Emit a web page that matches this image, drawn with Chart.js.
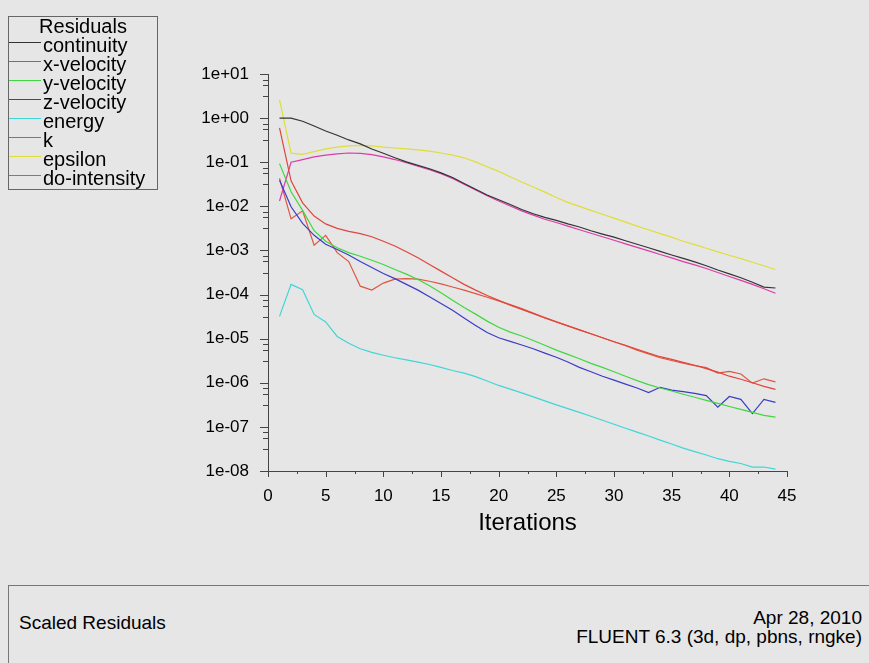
<!DOCTYPE html>
<html>
<head>
<meta charset="utf-8">
<script src="https://cdn.jsdelivr.net/npm/chart.js@4.4.1/dist/chart.umd.min.js"></script>
<style>
  body { margin: 0; background: #e6e6e6; font-family: "Liberation Sans", Arial, sans-serif; color: #000; }
  #wrap { position: relative; width: 869px; height: 663px; overflow: hidden; background: #e6e6e6; }
  #plot { position: absolute; left: 0; top: 0; }
  #legend { position: absolute; left: 8px; top: 16px; width: 150px; height: 174px;
            border: 1px solid #666; font-size: 20px; line-height: 19px; padding-top: 0px; box-sizing: border-box; }
  #legend .title { text-align: center; }
  #legend .row { position: relative; padding-left: 34px; white-space: nowrap; }
  #legend .swatch { position: absolute; left: 0; top: 6px; width: 32px; height: 1px; }
  #footer { position: absolute; left: 8px; top: 585px; right: -2px; bottom: -2px;
            border-top: 1px solid #777; border-left: 1px solid #777; }
  .ftxt { position: absolute; font-size: 19px; line-height: 19px; white-space: nowrap; }
</style>
</head>
<body>
<div id="wrap">
  <canvas id="plot" width="869" height="585"></canvas>
  <div id="legend"><div class="title">Residuals</div></div>
  <div id="footer"></div>
  <div class="ftxt" style="left:19px; top:613px;">Scaled Residuals</div>
  <div class="ftxt" style="right:7px; top:608px; text-align:right;">Apr 28, 2010<br>FLUENT 6.3 (3d, dp, pbns, rngke)</div>
</div>
<script>
// scaled residuals per iteration
const iterations = [1,2,3,4,5,6,7,8,9,10,11,12,13,14,15,16,17,18,19,20,21,22,23,24,25,26,27,28,29,30,31,32,33,34,35,36,37,38,39,40,41,42,43,44];

const continuity = [1.0,1.0,8.5e-1,6.6e-1,5.1e-1,4.1e-1,3.2e-1,2.6e-1,2.0e-1,1.6e-1,1.26e-1,1.02e-1,8.5e-2,7.1e-2,5.75e-2,4.5e-2,3.3e-2,2.45e-2,1.8e-2,1.41e-2,
  1.1e-2,8.5e-3,6.8e-3,5.6e-3,4.8e-3,4.0e-3,3.4e-3,2.8e-3,2.35e-3,2.0e-3,1.66e-3,1.38e-3,1.15e-3,9.5e-4,7.9e-4,6.6e-4,5.5e-4,4.5e-4,3.6e-4,2.95e-4,
  2.4e-4,1.9e-4,1.48e-4,1.41e-4];
const xVelocity = [6.0e-1,3.8e-2,1.2e-2,6.0e-3,4.0e-3,3.16e-3,2.7e-3,2.4e-3,2.04e-3,1.62e-3,1.26e-3,9.3e-4,6.8e-4,4.8e-4,3.4e-4,2.4e-4,1.7e-4,1.26e-4,9.5e-5,7.4e-5,
  5.75e-5,4.6e-5,3.7e-5,2.95e-5,2.4e-5,1.95e-5,1.58e-5,1.29e-5,1.05e-5,8.5e-6,7.1e-6,5.75e-6,4.7e-6,3.9e-6,3.4e-6,2.9e-6,2.5e-6,2.1e-6,1.74e-6,1.41e-6,
  1.2e-6,1.0e-6,8.3e-7,7.1e-7];
const yVelocity = [9.3e-2,2.14e-2,8.1e-3,2.8e-3,1.62e-3,1.15e-3,8.9e-4,7.4e-4,6.0e-4,4.8e-4,3.7e-4,2.9e-4,2.2e-4,1.58e-4,1.1e-4,7.4e-5,5.1e-5,3.6e-5,2.5e-5,1.82e-5,
  1.41e-5,1.15e-5,9.1e-6,7.1e-6,5.5e-6,4.4e-6,3.5e-6,2.75e-6,2.24e-6,1.78e-6,1.41e-6,1.12e-6,9.1e-7,7.6e-7,6.5e-7,5.5e-7,4.7e-7,4.0e-7,3.4e-7,2.9e-7,
  2.5e-7,2.14e-7,1.82e-7,1.66e-7];
const zVelocity = [3.9e-2,9.8e-3,4.1e-3,2.2e-3,1.38e-3,1.05e-3,7.9e-4,5.6e-4,4.1e-4,3.0e-4,2.3e-4,1.7e-4,1.26e-4,8.9e-5,6.3e-5,4.4e-5,2.95e-5,2.0e-5,1.38e-5,1.05e-5,
  8.7e-6,7.2e-6,5.9e-6,4.7e-6,3.8e-6,2.95e-6,2.24e-6,1.78e-6,1.41e-6,1.15e-6,9.3e-7,7.6e-7,6.0e-7,7.9e-7,6.8e-7,6.3e-7,5.75e-7,5.1e-7,2.8e-7,4.9e-7,
  4.2e-7,2.0e-7,4.2e-7,3.6e-7];
const energy = [3.2e-5,1.7e-4,1.29e-4,3.55e-5,2.4e-5,1.12e-5,7.9e-6,5.9e-6,4.9e-6,4.2e-6,3.7e-6,3.3e-6,2.95e-6,2.6e-6,2.24e-6,1.9e-6,1.66e-6,1.38e-6,1.1e-6,8.7e-7,
  7.2e-7,5.9e-7,4.8e-7,3.9e-7,3.16e-7,2.6e-7,2.14e-7,1.74e-7,1.41e-7,1.15e-7,9.3e-8,7.6e-8,6.2e-8,5.0e-8,4.1e-8,3.3e-8,2.75e-8,2.3e-8,1.9e-8,1.66e-8,
  1.48e-8,1.23e-8,1.23e-8,1.1e-8];
const kTurb = [1.32e-2,1.0e-1,1.15e-1,1.32e-1,1.45e-1,1.55e-1,1.62e-1,1.58e-1,1.48e-1,1.32e-1,1.15e-1,9.8e-2,8.1e-2,6.8e-2,5.5e-2,4.3e-2,3.16e-2,2.35e-2,1.74e-2,1.32e-2,
  1.02e-2,7.9e-3,6.3e-3,5.1e-3,4.3e-3,3.55e-3,2.95e-3,2.45e-3,2.04e-3,1.7e-3,1.41e-3,1.17e-3,9.8e-4,8.1e-4,6.8e-4,5.6e-4,4.7e-4,3.9e-4,3.16e-4,2.57e-4,
  2.1e-4,1.7e-4,1.35e-4,1.07e-4];
const epsilon = [2.6,1.6e-1,1.5e-1,1.74e-1,2.0e-1,2.2e-1,2.35e-1,2.4e-1,2.35e-1,2.2e-1,2.1e-1,2.0e-1,1.9e-1,1.78e-1,1.62e-1,1.45e-1,1.26e-1,1.02e-1,7.9e-2,6.2e-2,
  4.7e-2,3.55e-2,2.75e-2,2.1e-2,1.58e-2,1.23e-2,1.0e-2,8.1e-3,6.6e-3,5.4e-3,4.4e-3,3.55e-3,2.95e-3,2.4e-3,2.0e-3,1.62e-3,1.35e-3,1.12e-3,9.3e-4,7.8e-4,
  6.5e-4,5.4e-4,4.5e-4,3.7e-4];
const doIntensity = [4.3e-2,5.2e-3,7.9e-3,1.32e-3,2.2e-3,8.9e-4,5.6e-4,1.55e-4,1.26e-4,1.82e-4,2.24e-4,2.3e-4,2.24e-4,2.0e-4,1.74e-4,1.48e-4,1.26e-4,1.05e-4,8.7e-5,7.2e-5,
  5.9e-5,4.8e-5,3.8e-5,3.0e-5,2.4e-5,1.95e-5,1.58e-5,1.29e-5,1.05e-5,8.5e-6,6.9e-6,5.5e-6,4.5e-6,3.7e-6,3.2e-6,2.8e-6,2.45e-6,2.2e-6,1.66e-6,1.82e-6,
  1.58e-6,9.8e-7,1.23e-6,1.05e-6];

const seriesNames = ['continuity','x-velocity','y-velocity','z-velocity','energy','k','epsilon','do-intensity'];
const seriesValues = [continuity, xVelocity, yVelocity, zVelocity, energy, kTurb, epsilon, doIntensity];
const seriesColors = ['#333333','#e0463c','#3ed83e','#3c3cc8','#3ed6d6','#dc3caa','#dede3a','#e0553f'];

const yTickExponents = [1,0,-1,-2,-3,-4,-5,-6,-7,-8];
const yTickLabels = ['1e+01','1e+00','1e-01','1e-02','1e-03','1e-04','1e-05','1e-06','1e-07','1e-08'];

// legend rows
const legendEl = document.getElementById('legend');
seriesNames.forEach((name, i) => {
    const row = document.createElement('div');
    row.className = 'row';
    row.innerHTML = `<span class="swatch" style="background:${seriesColors[i]}"></span>${name}`;
    legendEl.appendChild(row);
});

// fluent style tick marks: long at major ticks, short in between
const tickMarks = {
    id: 'tickMarks',
    afterDraw(chart) {
        const ctx = chart.ctx;
        const xs = chart.scales.x, ys = chart.scales.y;
        const left = chart.chartArea.left, bottom = chart.chartArea.bottom;
        ctx.save();
        ctx.strokeStyle = '#444';
        ctx.lineWidth = 1;
        ctx.beginPath();
        yTickExponents.forEach(e => {
            const y = Math.round(ys.getPixelForValue(Math.pow(10, e))) + 0.5;
            ctx.moveTo(left - 8, y); ctx.lineTo(left, y);
            if (e < 1) {
                [0.5, 0.75, 0.875].forEach(f => {
                    const ym = Math.round(ys.getPixelForValue(Math.pow(10, e + f))) + 0.5;
                    ctx.moveTo(left - 5, ym); ctx.lineTo(left, ym);
                });
            }
        });
        for (let v = 0; v <= 45; v += 2.5) {
            const x = Math.round(xs.getPixelForValue(v)) + 0.5;
            const len = (v % 5 === 0) ? 6 : 3;
            ctx.moveTo(x, bottom); ctx.lineTo(x, bottom + len);
        }
        ctx.stroke();
        ctx.restore();
    }
};

const datasets = seriesNames.map((name, i) => ({
    label: name,
    data: iterations.map((it, j) => ({x: it, y: seriesValues[i][j]})),
    borderColor: seriesColors[i],
    backgroundColor: seriesColors[i],
    borderWidth: 1.2,
    pointRadius: 0,
    fill: false,
    tension: 0
}));

new Chart(document.getElementById('plot'), {
    type: 'line',
    data: { datasets: datasets },
    plugins: [tickMarks],
    options: {
        responsive: false,
        animation: false,
        events: [],
        layout: { padding: { left: 0, top: 74, right: 82, bottom: 0 } },
        plugins: { legend: { display: false }, tooltip: { enabled: false } },
        scales: {
            x: {
                type: 'linear',
                position: 'bottom',
                min: 0,
                max: 45,
                ticks: { stepSize: 5, padding: 15, color: '#000', font: { family: 'Liberation Sans', size: 17 } },
                grid: { display: false, drawTicks: false },
                border: { display: true, color: '#444', width: 1 },
                title: {
                    display: true,
                    text: 'Iterations',
                    color: '#000',
                    font: { family: 'Liberation Sans', size: 24 },
                    padding: { top: 0, bottom: 47 }
                },
                afterFit: (s) => { s.height = 114; }
            },
            y: {
                type: 'logarithmic',
                position: 'left',
                min: 1e-8,
                max: 10,
                afterBuildTicks: (s) => { s.ticks = yTickExponents.map(e => ({ value: Math.pow(10, e) })); },
                ticks: {
                    padding: 19,
                    color: '#000',
                    font: { family: 'Liberation Sans', size: 17 },
                    callback: (value, index) => yTickLabels[index]
                },
                grid: { display: false, drawTicks: false },
                border: { display: true, color: '#444', width: 1 },
                afterFit: (s) => { s.width = 268; }
            }
        }
    }
});
</script>
</body>
</html>
